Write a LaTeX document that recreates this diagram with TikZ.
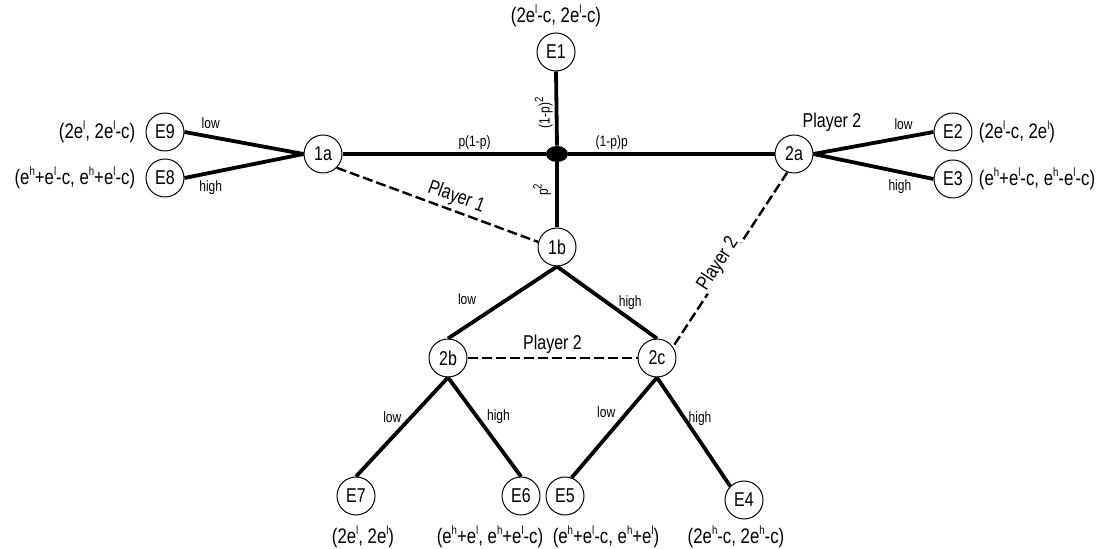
\documentclass[tikz,border=0pt]{standalone}
\usepackage{fontspec}
\setmainfont{Liberation Sans}[FakeStretch=0.8]
\usetikzlibrary{positioning,shapes.geometric}

\tikzstyle{state}   = [circle, draw=black, line width=0.5pt, minimum size=19pt, inner sep=0pt, font=\fontsize{10}{11}\selectfont]
\tikzstyle{chance}  = [ellipse, fill=black, minimum width=11pt, minimum height=8pt, inner sep=0pt]
\tikzstyle{move}    = [line width=1.9pt]
\tikzstyle{info}    = [line width=1.2pt, dash pattern=on 5pt off 2pt]
\tikzstyle{small}   = [font=\fontsize{7.5}{8}\selectfont, inner sep=1pt]
\tikzstyle{payoff}  = [font=\fontsize{10.5}{11}\selectfont, inner sep=1pt]
\tikzstyle{player}  = [font=\fontsize{10}{11}\selectfont, inner sep=1.5pt]

\newcommand{\sps}[1]{\raisebox{0.8ex}{\fontsize{6}{6}\selectfont #1}}
\newcommand{\el}{e\sps{l}}
\newcommand{\eh}{e\sps{h}}

\begin{document}
\begin{tikzpicture}[x=0.5pt,y=-0.5pt]
    \useasboundingbox (0,0) rectangle (1108,549);

    % nature and decision nodes
    \node[chance] (N) at (557,154) {};
    \node[state] (E1) at (556,52) {E1};
    \node[state] (1a) at (323,154) {1a};
    \node[state] (2a) at (794,154) {2a};
    \node[state] (1b) at (557,247) {1b};
    \node[state] (2b) at (448,358) {2b};
    \node[state] (2c) at (657,358) {2c};

    % end nodes
    \node[state] (E9) at (165,132) {E9};
    \node[state] (E8) at (165,178) {E8};
    \node[state] (E2) at (953,132) {E2};
    \node[state] (E3) at (953,179) {E3};
    \node[state] (E7) at (356,496) {E7};
    \node[state] (E6) at (521,496) {E6};
    \node[state] (E5) at (565,496) {E5};
    \node[state] (E4) at (744,500) {E4};

    % payoffs
    \node[payoff, above=1.5pt of E1] (P1) {(2\el-c, 2\el-c)};
    \node[payoff, left=4pt of E9] (P9) {(2\el, 2\el-c)};
    \node[payoff, left=4pt of E8] (P8) {(\eh+\el-c, \eh+\el-c)};
    \node[payoff, right=2pt of E2] (P2) {(2\el-c, 2\el)};
    \node[payoff, right=2pt of E3] (P3) {(\eh+\el-c, \eh-\el-c)};
    \node[payoff] (P7) at (363,537) {(2\el, 2\el)};
    \node[payoff] (P6) at (490,537) {(\eh+\el, \eh+\el-c)};
    \node[payoff] (P5) at (606,537) {(\eh+\el-c, \eh+\el)};
    \node[payoff] (P4) at (736,537) {(2\eh-c, 2\eh-c)};

    % moves of nature
    \draw[move] (E1.south) -- node[small, pos=0.56, rotate=90, anchor=south] {(1-p)\sps{2}} (N.north);
    \draw[move] (1a.east) -- node[small, pos=0.65, above] {p(1-p)} (N.west);
    \draw[move] (N.east) -- node[small, pos=0.21, above] {(1-p)p} (2a.west);
    \draw[move] (N.south) -- node[small, pos=0.42, rotate=90, anchor=south, yshift=1pt] {p\sps{2}} (1b.north);

    % moves of the players
    \draw[move] (E9.east) -- node[small, pos=0.22, above=2pt] {low} (1a.west);
    \draw[move] (E8.east) -- node[small, pos=0.22, below=2pt] {high} (1a.west);
    \draw[move] (2a.east) -- node[small, pos=0.75, above=2pt] {low} (E2.west);
    \draw[move] (2a.east) -- node[small, pos=0.72, below=2pt] {high} (E3.west);
    \draw[move] (1b.south) -- node[small, pos=0.45, left=14pt] {low} (2b.north);
    \draw[move] (1b.south) -- node[small, pos=0.5, right=4pt] {high} (2c.north);
    \draw[move] (2b.south) -- node[small, pos=0.4, left=3pt] {low} (E7.north);
    \draw[move] (2b.south) -- node[small, pos=0.4, right=3pt] {high} (E6.north);
    \draw[move] (2c.south) -- node[small, pos=0.35, left=4pt] {low} (E5.70);
    \draw[move] (2c.south) -- node[small, pos=0.38, right=0pt] {high} (E4.north west);

    % information sets
    \draw[info] (1a.-45) -- node[player, pos=0.57, sloped, above] {Player 1} (1b.165);
    \draw[info] (2b.east) -- node[player, pos=0.5, above] {Player 2} (2c.west);
    \draw[info] (2a.250) -- node[player, pos=0.55, sloped, above=-2pt, fill=white, inner sep=0.5pt] {Player 2} (2c.35);
    \node[player] (L2a) at (832,122) {Player 2};
\end{tikzpicture}
\end{document}
